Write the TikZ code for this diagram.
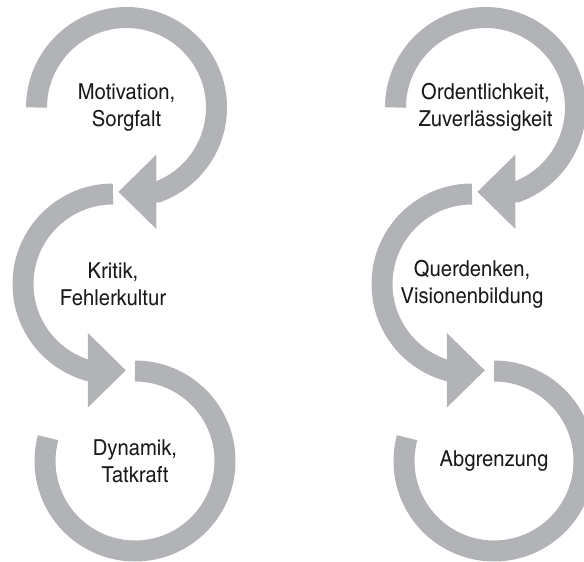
\documentclass[tikz,border=0pt]{standalone}
\usepackage{fontspec}
\setmainfont{texgyreheroscn}[Extension=.otf,UprightFont=*-regular,FakeStretch=1.12]
\usetikzlibrary{arrows.meta}
\definecolor{ringgray}{RGB}{177,179,182}

\begin{document}
\begin{tikzpicture}[
  x=1pt, y=1pt,
  ring/.style={draw=ringgray,line width=21pt},
  flow/.style={ring,-{Triangle[length=38pt,width=72pt]}},
  txt/.style={align=center,font=\fontsize{22}{27}\selectfont,text=black!90}
  ]

  \clip (0,0) rectangle (584,562);

  % left column
  \node [txt] (mot) at (126.5,454.5) {Motivation,\\Sorgfalt};
  \node [txt] (kri) at (113,278) {Kritik,\\Fehlerkultur};
  \node [txt] (dyn) at (135,101) {Dynamik,\\Tatkraft};

  \draw[flow] (mot.center) ++(180:90) arc[start angle=180,end angle=-69.5,radius=90] -- ++(-39.7,0);
  \draw[flow] (kri.center) ++(90:90) arc[start angle=90,end angle=253.5,radius=90] -- ++(38.5,0);
  \draw[ring] (dyn.center) ++(90:90) arc[start angle=90,end angle=-195,radius=90];

  % right column
  \node [txt] (ord) at (485.5,454.5) {Ordentlichkeit,\\Zuverlässigkeit};
  \node [txt] (que) at (472,278) {Querdenken,\\Visionenbildung};
  \node [txt] (abg) at (494,101) {Abgrenzung};

  \draw[flow] (ord.center) ++(180:90) arc[start angle=180,end angle=-69.5,radius=90] -- ++(-39.7,0);
  \draw[flow] (que.center) ++(90:90) arc[start angle=90,end angle=253.5,radius=90] -- ++(38.5,0);
  \draw[ring] (abg.center) ++(90:90) arc[start angle=90,end angle=-195,radius=90];

\end{tikzpicture}
\end{document}
